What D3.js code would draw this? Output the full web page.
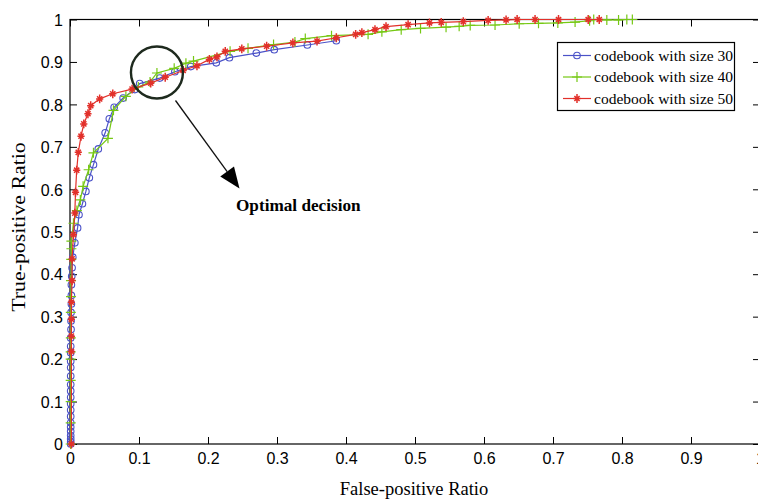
<!DOCTYPE html>
<html>
<head>
<meta charset="utf-8">
<script src="https://cdn.jsdelivr.net/npm/d3@7"></script>
<style>
  html, body { margin: 0; padding: 0; background: #fff; }
  svg { display: block; }
</style>
</head>
<body>
<svg id="chart" width="758" height="501"></svg>
<script>
// ROC curves for three codebook sizes
const seriesNames = ["codebook with size 30", "codebook with size 40", "codebook with size 50"];

const size30X = [0.001,0.001,0.001,0.001,0.001,0.001,0.001,0.001,0.001,0.001,0.001,0.001,0.001,0.001,0.001,0.001,0.001,0.001,0.001,0.0015,0.0015,0.0015,0.002,0.002,0.002,0.0025,0.003,0.004,
  0.007,0.011,0.013,0.018,0.023,0.028,0.034,0.041,0.051,0.057,0.064,0.077,0.094,0.101,0.13,0.152,0.175,0.212,0.231,0.27,0.296,0.344,0.386];
const size30Y = [0,0.005,0.012,0.02,0.03,0.04,0.05,0.065,0.08,0.095,0.11,0.125,0.14,0.16,0.18,0.195,0.215,0.23,0.25,0.27,0.29,0.31,0.33,0.35,0.375,0.395,0.415,0.44,
  0.474,0.509,0.54,0.566,0.595,0.627,0.658,0.695,0.733,0.766,0.793,0.815,0.835,0.849,0.862,0.877,0.889,0.898,0.91,0.921,0.929,0.94,0.95];

const size40X = [0.001,0.001,0.001,0.001,0.001,0.001,0.0012,0.0012,0.0015,0.0015,0.0018,0.002,0.002,
  0.005,0.01,0.015,0.019,0.027,0.034,0.055,0.063,0.081,0.099,0.116,0.126,0.151,0.168,0.179,0.232,0.258,0.295,0.326,0.341,0.379,0.432,0.452,0.48,0.508,0.545,0.564,0.58,0.616,0.651,0.679,0.707,0.732,0.753,0.759,0.778,0.795,0.807,0.815];
const size40Y = [0,0.05,0.1,0.15,0.2,0.217,0.25,0.31,0.347,0.385,0.435,0.46,0.478,
  0.52,0.55,0.575,0.607,0.646,0.686,0.72,0.786,0.819,0.841,0.853,0.874,0.885,0.897,0.902,0.925,0.932,0.941,0.947,0.955,0.962,0.965,0.971,0.976,0.979,0.982,0.984,0.986,0.987,0.99,0.991,0.992,0.994,0.997,1.0,0.999,0.999,1.0,1.0];

const size50X = [0.002,0.002,0.002,0.002,0.002,0.003,0.003,0.005,0.007,0.008,0.0097,0.012,0.016,0.02,0.026,0.03,0.043,0.062,0.09,0.117,0.138,0.164,0.184,0.202,0.213,0.225,0.249,0.285,0.323,0.358,0.386,0.414,0.423,0.442,0.458,0.49,0.521,0.538,0.57,0.606,0.632,0.648,0.674,0.708,0.751,0.767];
const size50Y = [0,0.218,0.254,0.294,0.334,0.385,0.436,0.493,0.544,0.593,0.645,0.687,0.725,0.754,0.778,0.797,0.813,0.825,0.836,0.85,0.864,0.88,0.891,0.906,0.912,0.925,0.931,0.937,0.945,0.949,0.957,0.965,0.969,0.976,0.983,0.988,0.992,0.993,0.995,0.998,0.999,1.0,1.0,1.0,1.0,1.0];

const xTicks = [0,0.1,0.2,0.3,0.4,0.5,0.6,0.7,0.8,0.9,1];
const yTicks = [0,0.1,0.2,0.3,0.4,0.5,0.6,0.7,0.8,0.9,1];
const xTickLabels = ["0","0.1","0.2","0.3","0.4","0.5","0.6","0.7","0.8","0.9","1"];
const yTickLabels = ["0","0.1","0.2","0.3","0.4","0.5","0.6","0.7","0.8","0.9","1"];

const colors = ["#4b52c8", "#76c814", "#e2302a"];
const markerKinds = ["circle", "plus", "star"];

const svg = d3.select("#chart");
const plotLeft = 70, plotRight = 760, plotTop = 19.5, plotBottom = 444;

const x = d3.scaleLinear().domain([0, 1]).range([plotLeft, plotRight]);
const y = d3.scaleLinear().domain([0, 1]).range([plotBottom, plotTop]);

const tickFont = "'Liberation Sans', Arial, Helvetica, sans-serif";
const serif = "'Liberation Serif', 'Times New Roman', Times, serif";

// axes with inward ticks
const gx = svg.append("g").attr("transform", `translate(0,${plotBottom})`)
  .call(d3.axisBottom(x).tickValues(xTicks).tickFormat((d, i) => xTickLabels[i])
    .tickSizeInner(-7).tickSizeOuter(0).tickPadding(8));
const gy = svg.append("g").attr("transform", `translate(${plotLeft},0)`)
  .call(d3.axisLeft(y).tickValues(yTicks).tickFormat((d, i) => yTickLabels[i])
    .tickSizeInner(-7).tickSizeOuter(0).tickPadding(7));
const gt = svg.append("g").attr("transform", `translate(0,${plotTop})`)
  .call(d3.axisTop(x).tickValues(xTicks).tickFormat("").tickSizeInner(-7).tickSizeOuter(0));
const gr = svg.append("g").attr("transform", `translate(${plotRight},0)`)
  .call(d3.axisRight(y).tickValues(yTicks).tickFormat("").tickSizeInner(-7).tickSizeOuter(0));

[gx, gy, gt, gr].forEach(g => {
  g.select(".domain").remove();
  g.selectAll(".tick line").attr("stroke", "#000").attr("stroke-width", 1);
  g.selectAll(".tick text").attr("fill", "#000").style("font-family", tickFont).style("font-size", "16px");
});
gy.selectAll(".tick text").attr("dy", "0.36em");
gx.selectAll(".tick text").attr("dy", "0.74em");

// frame
svg.append("rect")
  .attr("x", plotLeft).attr("y", plotTop)
  .attr("width", plotRight - plotLeft).attr("height", plotBottom - plotTop)
  .attr("fill", "none").attr("stroke", "#000").attr("stroke-width", 1.2);

// axis titles
svg.append("text")
  .attr("x", 414).attr("y", 495)
  .attr("text-anchor", "middle")
  .style("font-family", serif).style("font-size", "18.5px")
  .text("False-positive Ratio");
svg.append("text")
  .attr("transform", `translate(25,227) rotate(-90) scale(1.18,1)`)
  .attr("text-anchor", "middle")
  .style("font-family", serif).style("font-size", "18.5px")
  .text("True-positive Ratio");

function drawMarker(g, kind, cx, cy, color) {
  if (kind === "circle") {
    g.append("circle").attr("cx", cx).attr("cy", cy).attr("r", 3.3)
      .attr("fill", "none").attr("stroke", color).attr("stroke-width", 1.1);
  } else if (kind === "plus") {
    g.append("path").attr("d", `M${cx - 5},${cy}H${cx + 5}M${cx},${cy - 5}V${cy + 5}`)
      .attr("stroke", color).attr("stroke-width", 1.2).attr("fill", "none");
  } else {
    const r = 3.6, d = r * 0.72;
    g.append("path")
      .attr("d", `M${cx - r},${cy}H${cx + r}M${cx},${cy - r - 0.8}V${cy + r + 0.8}M${cx - d},${cy - d}L${cx + d},${cy + d}M${cx - d},${cy + d}L${cx + d},${cy - d}`)
      .attr("stroke", color).attr("stroke-width", 1.5).attr("fill", "none");
  }
}

const series = [
  { xs: size30X, ys: size30Y },
  { xs: size40X, ys: size40Y },
  { xs: size50X, ys: size50Y }
];

const line = d3.line().x(d => x(d[0])).y(d => y(d[1]));
series.forEach((s, i) => {
  const pts = s.xs.map((v, j) => [v, s.ys[j]]);
  const g = svg.append("g");
  g.append("path").datum(pts).attr("d", line)
    .attr("fill", "none").attr("stroke", colors[i]).attr("stroke-width", 1.2);
  pts.forEach(p => drawMarker(g, markerKinds[i], x(p[0]), y(p[1]), colors[i]));
});

// annotation: highlighted region and arrow
const ann = svg.append("g");
const cx0 = x(0.126), cy0 = y(0.875);
ann.append("circle").attr("cx", cx0).attr("cy", cy0).attr("r", 26)
  .attr("fill", "none").attr("stroke", "#1e2a1e").attr("stroke-width", 2.4);
const ax1 = 175.5, ay1 = 100.5, ax2 = 239.5, ay2 = 188.5;
const ang = Math.atan2(ay2 - ay1, ax2 - ax1);
const headLen = 21, headW = 8.5;
const bx = ax2 - headLen * Math.cos(ang), by = ay2 - headLen * Math.sin(ang);
ann.append("line").attr("x1", ax1).attr("y1", ay1).attr("x2", bx).attr("y2", by)
  .attr("stroke", "#111").attr("stroke-width", 1.3);
ann.append("path")
  .attr("d", `M${ax2},${ay2}L${bx + headW * Math.sin(ang)},${by - headW * Math.cos(ang)}L${bx - headW * Math.sin(ang)},${by + headW * Math.cos(ang)}Z`)
  .attr("fill", "#000");
ann.append("text").attr("x", 236).attr("y", 210.5)
  .style("font-family", serif).style("font-size", "17.2px").style("font-weight", "bold")
  .text("Optimal decision");

// legend
const lg = svg.append("g");
lg.append("rect").attr("x", 557.5).attr("y", 42.5).attr("width", 177).attr("height", 68)
  .attr("fill", "#fff").attr("stroke", "#000").attr("stroke-width", 1.2);
seriesNames.forEach((name, i) => {
  const ry = 55.5 + i * 21.5;
  lg.append("line").attr("x1", 563).attr("x2", 591).attr("y1", ry).attr("y2", ry)
    .attr("stroke", colors[i]).attr("stroke-width", 1.2);
  drawMarker(lg, markerKinds[i], 577, ry, colors[i]);
  lg.append("text").attr("x", 594).attr("y", ry + 5)
    .style("font-family", serif).style("font-size", "15.5px")
    .text(name);
});
</script>
</body>
</html>
